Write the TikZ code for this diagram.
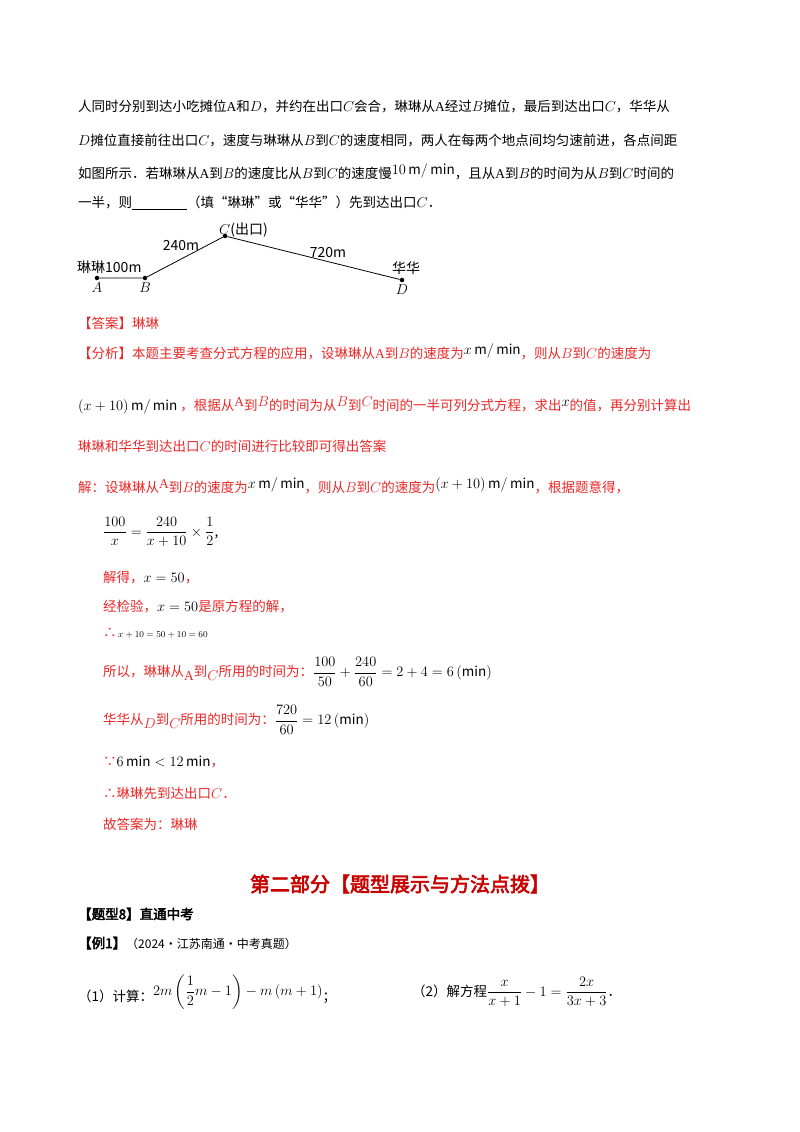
\documentclass[tikz,border=0pt]{standalone}
\usepackage{amsmath}
\usepackage{fontspec}
\usetikzlibrary{positioning}
\setmainfont{Noto Sans CJK SC}
\newfontfamily\cjkb[FakeBold=3]{Noto Sans CJK SC}
\newfontfamily\serif{Liberation Serif}
\definecolor{ans}{RGB}{235,40,40}
\definecolor{ttl}{RGB}{200,0,0}
\newcommand{\up}[1]{\raisebox{4pt}{#1}}
\newcommand{\dn}[1]{\raisebox{-4pt}{#1}}
\begin{document}
\begin{tikzpicture}[x=1pt,y=-1pt,
  txt/.style={anchor=west,inner sep=0pt,font=\fontsize{13.5}{16}\selectfont},
  red/.style={txt,text=ans},
  dot/.style={circle,fill=black,inner sep=1.6pt},
  lab/.style={inner sep=1pt,font=\fontsize{14}{16}\selectfont}]
\useasboundingbox[fill=white] (0,0) rectangle (800,1132);
\node[txt] (l1) at (78,107) {人同时分别到达小吃摊位{\serif A}和$D$，并约在出口$C$会合，琳琳从{\serif A}经过$B$摊位，最后到达出口$C$，华华从};
\node[txt] (l2) at (78,140) {$D$摊位直接前往出口$C$，速度与琳琳从$B$到$C$的速度相同，两人在每两个地点间均匀速前进，各点间距};
\node[txt] (l3) at (78,172) {如图所示．若琳琳从{\serif A}到$B$的速度比从$B$到$C$的速度慢\up{$10\,\mathrm{m}/\min$}，且从{\serif A}到$B$的时间为从$B$到$C$时间的};
\node[txt] (l4) at (78,203) {一半，则\underline{\hspace{55pt}}（填“琳琳”或“华华”）先到达出口$C$．};
% diagram
\node[dot] (A) at (97,278) {};
\node[dot] (B) at (145,278) {};
\node[dot] (C) at (225,236) {};
\node[dot] (D) at (402,280) {};
\draw[line width=0.8pt] (A) -- (B) -- (C) -- (D);
\node[lab,below=1pt of A] (la) {$A$};
\node[lab,below=1pt of B] (lb) {$B$};
\node[lab,below=1pt of D] (ld) {$D$};
\node[lab,anchor=south west] (lc) at (218,238) {$C$(出口)};
\node[lab,anchor=south west] (l100) at (76,275) {琳琳100m};
\node[lab] (l240) at (181,246) {240m};
\node[lab] (l720) at (328,253) {720m};
\node[lab] (lhh) at (406,268) {华华};
% answer
\node[red] (a1) at (78,323) {【答案】琳琳};
\node[red] (a2) at (78,352) {【分析】本题主要考查分式方程的应用，设琳琳从{\serif A}到$B$的速度为\up{\textcolor{black}{$x\,\mathrm{m}/\min$}}，则从$B$到$C$的速度为};
\node[red] (a3) at (78,405) {\textcolor{black}{$\left(x+10\right)\mathrm{m}/\min$}\ ，根据从\up{\serif A}到\up{$B$}的时间为从\up{$B$}到\up{$C$}时间的一半可列分式方程，求出\up{\textcolor{black}{$x$}}的值，再分别计算出};
\node[red] (a4) at (78,446) {琳琳和华华到达出口$C$的时间进行比较即可得出答案};
\node[red] (a5) at (78,486) {解：设琳琳从\up{\serif A}到$B$的速度为\up{\textcolor{black}{$x\,\mathrm{m}/\min$}}，则从$B$到$C$的速度为\up{\textcolor{black}{$\left(x+10\right)\mathrm{m}/\min$}}，根据题意得，};
\node[txt] (e1) at (103,532) {$\dfrac{100}{x}=\dfrac{240}{x+10}\times\dfrac{1}{2}$,};
\node[red] (e2) at (103,578) {解得，\textcolor{black}{$x=50$}，};
\node[red] (e3) at (103,606) {经检验，\textcolor{black}{$x=50$}是原方程的解，};
\node[red] (e4) at (103,633) {∴\textcolor{black}{\small$\,x+10=50+10=60$}};
\node[red] (e5) at (103,672) {所以，琳琳从\dn{\serif A}到\dn{$C$}所用的时间为：\textcolor{black}{$\dfrac{100}{50}+\dfrac{240}{60}=2+4=6\left(\min\right)$}};
\node[red] (e6) at (103,720) {华华从\dn{$D$}到\dn{$C$}所用的时间为：\textcolor{black}{$\dfrac{720}{60}=12\left(\min\right)$}};
\node[red] (e7) at (103,762) {∵\textcolor{black}{$6\min<12\min$}，};
\node[red] (e8) at (103,793) {∴琳琳先到达出口$C$．};
\node[red] (e9) at (103,824) {故答案为：琳琳};
% part two
\node[inner sep=0pt,text=ttl,font=\cjkb\fontsize{20}{23}\selectfont] (t) at (400,884) {第二部分【题型展示与方法点拨】};
\node[txt,font=\cjkb\fontsize{13.5}{16}\selectfont] (p1) at (78,914) {【题型8】直通中考};
\node[txt] (p2) at (78,943) {{\cjkb【例1】}\fontsize{12}{14}\selectfont（2024·江苏南通·中考真题）};
\node[txt] (q1) at (78,992) {（1）计算：\raisebox{6pt}{$2m\left(\dfrac{1}{2}m-1\right)-m\left(m+1\right)$}；};
\node[txt] (q2) at (412,992) {（2）解方程$\dfrac{x}{x+1}-1=\dfrac{2x}{3x+3}$．};
\end{tikzpicture}
\end{document}
